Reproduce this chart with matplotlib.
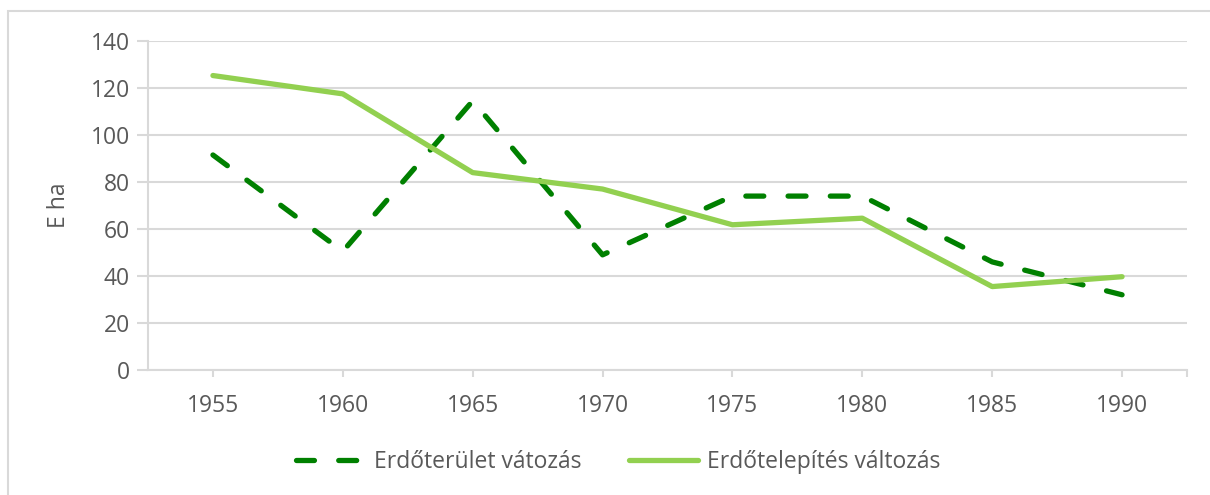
import numpy as np
import matplotlib.pyplot as plt
from matplotlib.patches import Rectangle

plt.rcParams['font.family'] = ['Open Sans', 'DejaVu Sans']

# ── Data ─────────────────────────────────────────────────────────────────────
years = ['1955', '1960', '1965', '1970', '1975', '1980', '1985', '1990']
erdoterulet = [91.5, 50.5, 114.5, 49, 74, 74, 46, 32]
erdotelepites = [125.3, 117.5, 84, 77, 61.8, 64.6, 35.5, 39.7]

TXT = '#595959'
GRID = '#D9D9D9'
FS = 16.5

# ── Plot ─────────────────────────────────────────────────────────────────────
fig = plt.figure(figsize=(12.1, 4.95), dpi=100)
ax = fig.add_axes([148/1210, 1 - 370/495, (1187-148)/1210, (370-41)/495])

x = np.arange(len(years))
ax.plot(x, erdoterulet, color='#008000', lw=3.8, dashes=(3.4, 4.6),
        dash_capstyle='round', solid_capstyle='round', label='Erdőterület vátozás')
ax.plot(x, erdotelepites, color='#92D050', lw=3.8, solid_capstyle='round',
        label='Erdőtelepítés változás')

ax.set_xlim(-0.5, len(years) - 0.5)
ax.set_ylim(0, 140)
ax.set_yticks(np.arange(0, 141, 20))
ax.set_xticks(x)
ax.set_xticklabels(years)
ax.set_xticks([len(years) - 0.5], minor=True)

ax.grid(axis='y', color=GRID, lw=1.5)
ax.set_axisbelow(True)
for s in ['top', 'right']:
    ax.spines[s].set_visible(False)
for s in ['left', 'bottom']:
    ax.spines[s].set_color(GRID)
    ax.spines[s].set_linewidth(1.5)

ax.tick_params(axis='y', length=8, width=1.5, color=GRID, labelcolor=TXT,
               labelsize=FS, pad=5)
ax.tick_params(axis='x', which='both', length=5, width=1.5, color=GRID,
               labelcolor=TXT, labelsize=FS, pad=12)
ax.set_ylabel('E ha', color=TXT, fontsize=FS, labelpad=14)

fig.legend(loc='center', bbox_to_anchor=(0.511, 1 - 462/495), ncol=2, frameon=False,
           fontsize=FS, labelcolor=TXT, handlelength=3.0, columnspacing=2.1,
           handletextpad=0.4)

fig.patches.append(Rectangle((8/1210, -0.1), 1.2, 1 - 11/495 + 0.1,
                             transform=fig.transFigure, fill=False,
                             edgecolor=GRID, lw=1.5))

plt.savefig('out.png', dpi=100)
